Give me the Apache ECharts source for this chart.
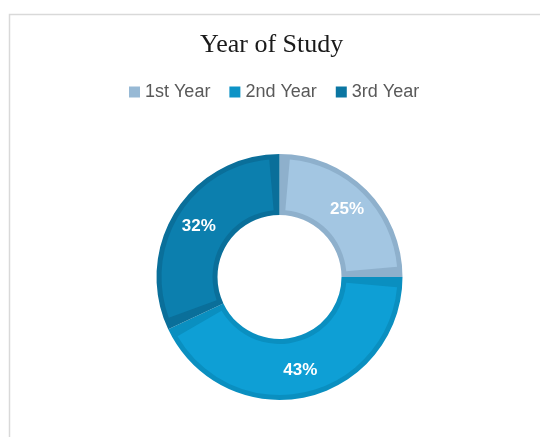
<!DOCTYPE html>
<html>
<head>
<meta charset="utf-8">
<title>Year of Study</title>
<script src="https://cdn.jsdelivr.net/npm/echarts@6/dist/echarts.min.js"></script>
<style>
  html, body { margin: 0; padding: 0; background: #fff; }
  #chart { width: 540px; height: 437px; }
</style>
</head>
<body>
<div id="chart"></div>
<script>
// data
const years = ["1st Year", "2nd Year", "3rd Year"];
const shares = [25, 43, 32];

// fill colours and the darker edge colours of each slice
const fillColors = ["#a3c6e2", "#0e9fd5", "#0c7fae"];
const edgeColors = ["#8eb0cc", "#0a8fc0", "#0a6f9a"];
const legendColors = ["#97b9d5", "#0d93c6", "#0b76a2"];

const chart = echarts.init(document.getElementById("chart"));

const fillData = years.map((name, i) => ({
  name: name,
  value: shares[i],
  itemStyle: { color: fillColors[i] }
}));
const edgeData = years.map((name, i) => ({
  name: name,
  value: shares[i],
  itemStyle: { color: edgeColors[i] }
}));

chart.setOption({
  animation: false,
  title: {
    text: "Year of Study",
    left: 195,
    top: 27,
    textStyle: {
      fontFamily: "Liberation Serif",
      fontSize: 26,
      fontWeight: "normal",
      color: "#1a1a1a"
    }
  },
  legend: {
    left: 124,
    top: 78,
    icon: "rect",
    itemWidth: 11,
    itemHeight: 11,
    itemGap: 19,
    selectedMode: false,
    textStyle: {
      fontFamily: "Liberation Sans",
      fontSize: 18,
      color: "#595959"
    },
    data: years.map((name, i) => ({
      name: name,
      itemStyle: { color: legendColors[i] }
    }))
  },
  graphic: [
    {
      // chart frame (only top and left edges visible)
      type: "rect",
      shape: { x: 9.5, y: 14.5, width: 600, height: 500 },
      style: { fill: "none", stroke: "#d9d9d9", lineWidth: 1.5 },
      silent: true
    }
  ],
  series: [
    {
      // inner fill of each slice, inset so the edge colour shows round it
      name: "fill",
      type: "pie",
      z: 3,
      center: [279.5, 277],
      radius: [67, 118],
      padAngle: 10,
      silent: true,
      itemStyle: { borderWidth: 0 },
      label: {
        show: true,
        position: "inside",
        formatter: "{d}%",
        color: "#ffffff",
        fontFamily: "Liberation Sans",
        fontWeight: "bold",
        fontSize: 17
      },
      labelLine: { show: false },
      emphasis: { disabled: true },
      data: fillData
    },
    {
      // darker edge ring under the fills
      name: "edge",
      type: "pie",
      z: 2,
      center: [279.5, 277],
      radius: [62, 123],
      silent: true,
      itemStyle: { borderWidth: 0 },
      label: { show: false },
      labelLine: { show: false },
      emphasis: { disabled: true },
      data: edgeData
    }
  ]
});
</script>
</body>
</html>
